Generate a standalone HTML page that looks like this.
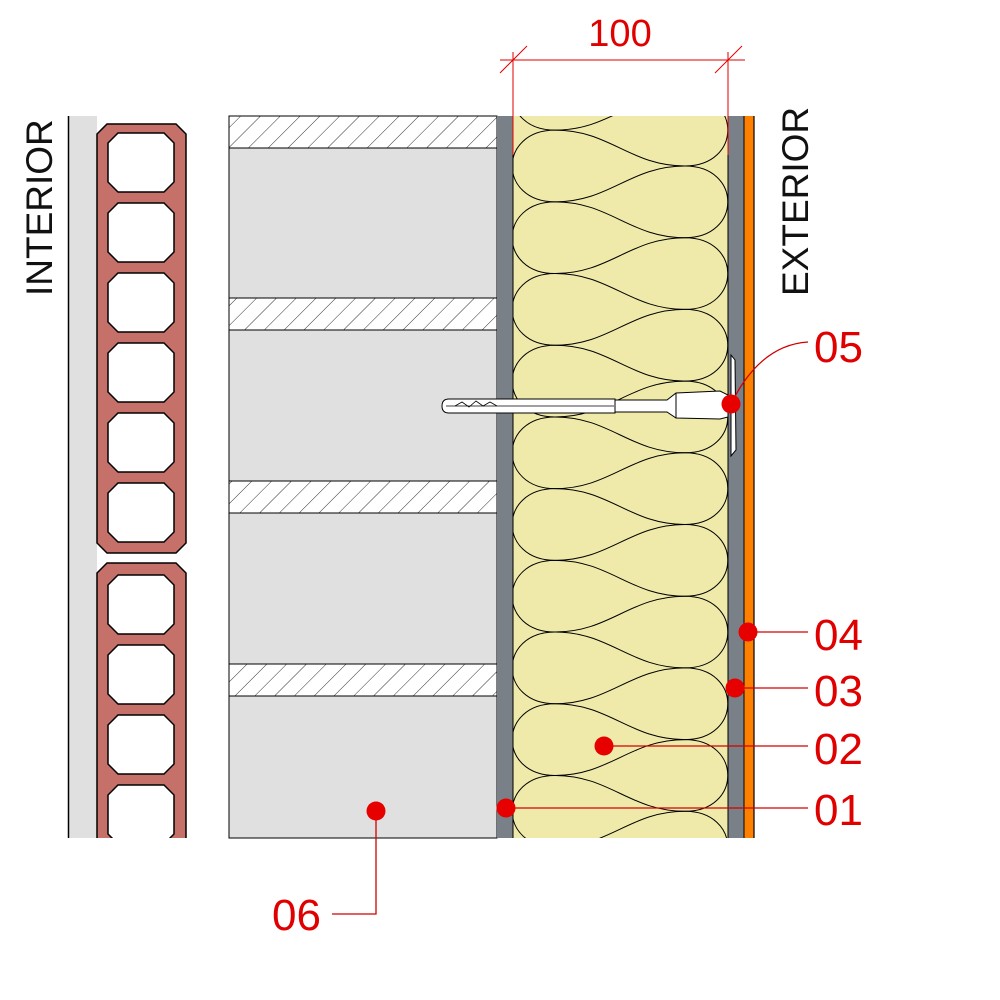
<!DOCTYPE html>
<html><head><meta charset="utf-8"><style>
html,body{margin:0;padding:0;background:#fff;}
svg{display:block;}
text{font-family:"Liberation Sans","DejaVu Sans",sans-serif;}
</style></head><body>
<svg id="s" width="1000" height="1000" viewBox="0 0 1000 1000" xmlns="http://www.w3.org/2000/svg">
<defs>
<pattern id="h" patternUnits="userSpaceOnUse" width="14" height="14" patternTransform="rotate(45)">
<line x1="0" y1="0" x2="0" y2="14" stroke="#333" stroke-width="1"/>
</pattern>
<clipPath id="ins"><rect x="513" y="116" width="215" height="722"/></clipPath>
<clipPath id="brk"><rect x="90" y="116" width="110" height="722"/></clipPath>
</defs>
<rect x="68" y="116" width="29" height="722" fill="#e0e0e0"/>
<line x1="68.5" y1="116" x2="68.5" y2="838" stroke="#000" stroke-width="1.5"/>
<g id="bricks" clip-path="url(#brk)"></g>
<rect x="229" y="116" width="268" height="722" fill="#e0e0e0" stroke="#000" stroke-width="1"/>
<g id="mortar"></g>
<rect x="497" y="116" width="16" height="722" fill="#7a8088"/>
<rect x="513" y="116" width="215" height="722" fill="#efeaaa"/>
<g id="loops" clip-path="url(#ins)" fill="none" stroke="#000" stroke-width="1"></g>
<line x1="513" y1="116" x2="513" y2="838" stroke="#000" stroke-width="1"/>
<rect x="728" y="116" width="16" height="722" fill="#7a8088"/>
<line x1="728" y1="116" x2="728" y2="838" stroke="#000" stroke-width="1"/>
<rect x="744" y="116" width="10" height="722" fill="#ff8000"/>
<line x1="744" y1="116" x2="744" y2="838" stroke="#000" stroke-width="1"/>
<line x1="754" y1="116" x2="754" y2="838" stroke="#000" stroke-width="1.2"/>
<path d="M731 355 L735 360 L736 450 L731 456 Z" fill="#fff" stroke="#000"/>
<path d="M449 399 L615 399 L615 413 L449 413 Q442 413 442 406 Q442 399 449 399 Z" fill="#fff" stroke="#000"/>
<polyline points="455,406 462,402 469,407 476,401 483,406 490,402 497,406" fill="none" stroke="#000" stroke-width="0.8"/>
<line x1="446" y1="406" x2="614" y2="406" stroke="#000" stroke-width="0.8"/>
<path d="M615 400 L667 400 L676 393 L720 391 L728 395 L728 417 L720 419 L676 418 L667 412 L615 412 Z" fill="#fff" stroke="#000"/>
<line x1="676" y1="393" x2="676" y2="418" stroke="#000"/>
<g stroke="#e00000" stroke-width="1">
<line x1="500" y1="60" x2="745" y2="60"/>
<line x1="513" y1="52" x2="513" y2="155"/>
<line x1="728" y1="52" x2="728" y2="155"/>
<line x1="500" y1="73" x2="527" y2="46"/>
<line x1="715" y1="73" x2="742" y2="46"/>
</g>
<text x="620" y="46" font-size="38" fill="#e00000" text-anchor="middle">100</text>
<text transform="translate(52,296) rotate(-90)" font-size="37" fill="#111">INTERIOR</text>
<text transform="translate(808,296) rotate(-90)" font-size="37" fill="#111">EXTERIOR</text>
<g stroke="#d00000" stroke-width="1.3" fill="none">
<path d="M731 404 Q760 345 808 342"/>
<line x1="748" y1="632" x2="808" y2="632"/>
<line x1="735" y1="688" x2="808" y2="688"/>
<line x1="603" y1="746" x2="808" y2="746"/>
<line x1="506" y1="808" x2="808" y2="808"/>
<polyline points="376,811 376,914 332,914"/>
</g>
<g fill="#e60000">
<circle cx="731" cy="404" r="9.5"/>
<circle cx="748" cy="632" r="9.5"/>
<circle cx="735" cy="688" r="9.5"/>
<circle cx="604" cy="746" r="9.5"/>
<circle cx="506" cy="808" r="9.5"/>
<circle cx="376" cy="811" r="9.5"/>
</g>
<g font-size="44" fill="#e00000">
<text x="814" y="362">05</text>
<text x="814" y="650">04</text>
<text x="814" y="706">03</text>
<text x="814" y="764">02</text>
<text x="814" y="825">01</text>
<text x="272" y="930">06</text>
</g>
</svg>
<script>
var NS="http://www.w3.org/2000/svg";
function el(p,t,a){var e=document.createElementNS(NS,t);for(var k in a)e.setAttribute(k,a[k]);p.appendChild(e);return e;}
var m=document.getElementById('mortar');
[116,298,481,664].forEach(function(y){el(m,'rect',{x:229,y:y,width:268,height:32,fill:'#fff'});el(m,'rect',{x:229,y:y,width:268,height:32,fill:'url(#h)',stroke:'#000','stroke-width':1});});
var b=document.getElementById('bricks');
function brick(y0,y1,holes){
 var x0=97,x1=186,c=10;
 var d='M'+(x0+c)+' '+y0+' L'+(x1-c)+' '+y0+' L'+x1+' '+(y0+c)+' L'+x1+' '+(y1-c)+' L'+(x1-c)+' '+y1+' L'+(x0+c)+' '+y1+' L'+x0+' '+(y1-c)+' L'+x0+' '+(y0+c)+' Z';
 el(b,'path',{d:d,fill:'#c6706a',stroke:'#000','stroke-width':1.5});
 holes.forEach(function(h){var a=108,e=174,t=h,u=h+59,k=10;
  el(b,'path',{d:'M'+(a+k)+' '+t+' L'+(e-k)+' '+t+' L'+e+' '+(t+k)+' L'+e+' '+(u-k)+' L'+(e-k)+' '+u+' L'+(a+k)+' '+u+' L'+a+' '+(u-k)+' L'+a+' '+(t+k)+' Z',fill:'#fff',stroke:'#000','stroke-width':1.5});});
}
brick(124,553,[133,203,273,343,413,483]);
brick(563,900,[575,645,715,785]);
var L=document.getElementById('loops');
var P=71.7, XL=555, XR=685;
for(var k=-2;k<12;k++){
 var yk=166+P*k, yn=yk+P, c=yk+P/2, cp=c-P;
 // right arc between right junctions
 el(L,'path',{d:'M'+XR+' '+yk+' C742 '+yk+' 742 '+yn+' '+XR+' '+yn});
 // left arc between left junctions cp -> c
 el(L,'path',{d:'M'+XL+' '+cp+' C498 '+cp+' 498 '+c+' '+XL+' '+c});
 // S-curves from right junction yk to left junctions cp and c
 el(L,'path',{d:'M'+XR+' '+yk+' C630 '+yk+' 610 '+c+' '+XL+' '+c});
 el(L,'path',{d:'M'+XR+' '+yk+' C630 '+yk+' 610 '+cp+' '+XL+' '+cp});
}
</script>
</body></html>
